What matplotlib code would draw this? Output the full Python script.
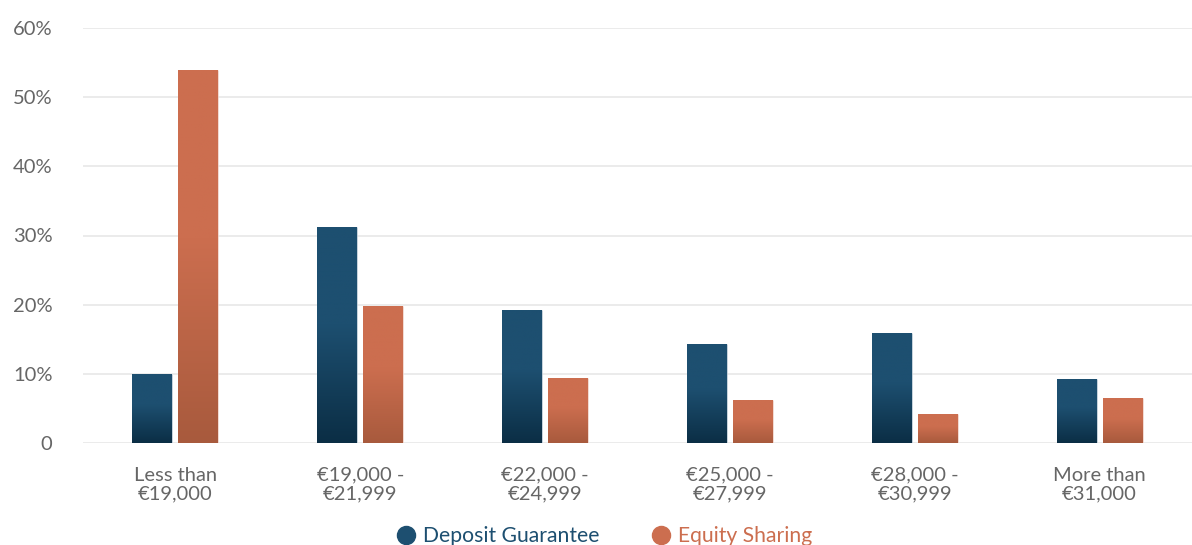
import numpy as np
import matplotlib
matplotlib.use("Agg")
import matplotlib.pyplot as plt
from matplotlib.colors import LinearSegmentedColormap
from matplotlib.lines import Line2D

categories = ["Less than\n€19,000", "€19,000 -\n€21,999", "€22,000 -\n€24,999",
              "€25,000 -\n€27,999", "€28,000 -\n€30,999", "More than\n€31,000"]
deposit_guarantee = [10.0, 31.3, 19.2, 14.3, 15.9, 9.3]
equity_sharing = [53.9, 19.8, 9.4, 6.2, 4.2, 6.5]
series_names = ["Deposit Guarantee", "Equity Sharing"]
yticks = [0, 10, 20, 30, 40, 50, 60]
ytick_labels = ["0", "10%", "20%", "30%", "40%", "50%", "60%"]

plt.rcParams['font.family'] = ['Lato', 'DejaVu Sans']

W, H = 1192, 545
fig = plt.figure(figsize=(W / 100, H / 100), dpi=100)
ax = fig.add_axes([83 / W, (H - 443) / H, 1 - 83 / W, (443 - 28) / H])

blue_top, blue_bot = "#1D4F70", "#0B2E45"
orng_top, orng_bot = "#CC6E4F", "#A85A3D"

x = np.arange(len(categories))
cat_w = (W - 83) / 6
bw = 40 / cat_w
gap = 6 / cat_w
off = (bw + gap) / 2

def grad_bars(xs, vals, top, bot):
    bars = ax.bar(xs, vals, width=bw, color=top, edgecolor=(1, 1, 1, 0.5), linewidth=1, zorder=3)
    cmap = LinearSegmentedColormap.from_list("g", [bot, top])
    t = np.linspace(0, 1, 256)
    g = np.clip(t / 0.55, 0, 1)[:, None]
    for b in bars:
        x0, y0 = b.get_x(), b.get_y()
        w, h = b.get_width(), b.get_height()
        im = ax.imshow(g, cmap=cmap, extent=[x0, x0 + w, y0, y0 + h], origin="lower",
                       aspect="auto", zorder=3.5, vmin=0, vmax=1)
        im.set_clip_path(b)
    return bars

grad_bars(x - off, deposit_guarantee, blue_top, blue_bot)
grad_bars(x + off, equity_sharing, orng_top, orng_bot)

ax.set_xlim(-0.5, len(categories) - 0.5)
ax.set_ylim(0, 60)
ax.set_yticks(yticks)
ax.set_yticklabels(ytick_labels)
ax.set_xticks(x)
ax.set_xticklabels(categories, linespacing=1.1)
ax.grid(axis="y", color="#e8e8e8", linewidth=1.2, zorder=0)
ax.set_axisbelow(True)
for s in ax.spines.values():
    s.set_visible(False)
ax.tick_params(axis="both", length=0, labelsize=14.5, labelcolor="#666666")
ax.tick_params(axis="y", pad=22)
ax.tick_params(axis="x", pad=17)
for lbl in ax.get_yticklabels():
    lbl.set_horizontalalignment("right")

handles = [Line2D([], [], marker="o", linestyle="", markersize=13, markerfacecolor=blue_top, markeredgecolor=blue_top),
           Line2D([], [], marker="o", linestyle="", markersize=13, markerfacecolor=orng_top, markeredgecolor=orng_top)]
leg = fig.legend(handles, series_names, loc="center", bbox_to_anchor=(604 / W, 1 - 536 / H),
                 ncol=2, frameon=False, fontsize=15.2, handletextpad=0.3, columnspacing=2.4,
                 handlelength=1.0)
for txt, c in zip(leg.get_texts(), [blue_top, orng_top]):
    txt.set_color(c)

fig.savefig("out.png", dpi=100)
